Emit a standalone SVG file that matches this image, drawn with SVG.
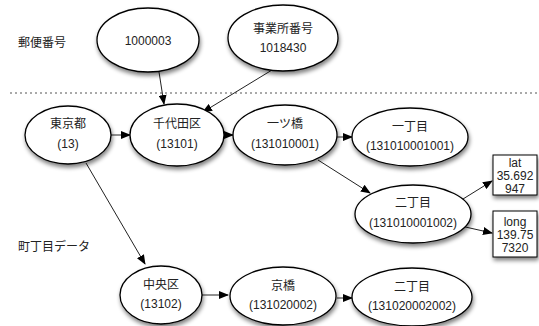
<svg xmlns="http://www.w3.org/2000/svg" width="539" height="326" viewBox="0 0 539 326">
<defs>
<filter id="sh" x="-20%" y="-20%" width="150%" height="160%">
<feGaussianBlur in="SourceAlpha" stdDeviation="2"/>
<feOffset dx="1" dy="3" result="b"/>
<feComponentTransfer><feFuncA type="linear" slope="0.5"/></feComponentTransfer>
<feMerge><feMergeNode/><feMergeNode in="SourceGraphic"/></feMerge>
</filter>
<marker id="ah" markerWidth="10" markerHeight="8" refX="9" refY="4" orient="auto" markerUnits="userSpaceOnUse">
<path d="M0,0 L10,4 L0,8 Z" fill="#000"/>
</marker>
</defs>
<style>
.n ellipse{fill:#fff;stroke:#000;stroke-width:1.3;filter:url(#sh)}
.n rect{fill:#fff;stroke:#000;stroke-width:1;filter:url(#sh)}
text{font-family:"Liberation Sans","Noto Sans CJK JP",sans-serif;font-size:12px;fill:#222;text-anchor:middle}
.lbl{text-anchor:start}
.e line{stroke:#222;stroke-width:1;marker-end:url(#ah)}
</style>
<rect width="539" height="326" fill="#fff"/>
<text class="lbl" x="18" y="47">郵便番号</text>
<text class="lbl" x="18" y="251">町丁目データ</text>
<line x1="10" y1="93" x2="539" y2="93" stroke="#555" stroke-width="1" stroke-dasharray="2,3"/>
<g class="e">
<line x1="159" y1="72" x2="164" y2="104"/>
<line x1="272" y1="70" x2="203" y2="112"/>
<line x1="111" y1="135" x2="130" y2="135"/>
<line x1="224" y1="135" x2="233" y2="135"/>
<line x1="337" y1="137" x2="352" y2="137"/>
<line x1="318" y1="160" x2="370" y2="193"/>
<line x1="463" y1="199" x2="492" y2="181"/>
<line x1="461" y1="226" x2="492" y2="233"/>
<line x1="86" y1="163" x2="145" y2="264"/>
<line x1="202" y1="295" x2="228" y2="295"/>
<line x1="337" y1="298" x2="352" y2="298"/>
</g>
<g class="n" id="n1000003"><ellipse cx="148" cy="40" rx="51" ry="32"/><text x="148" y="45">1000003</text></g>
<g class="n" id="jigyosho"><ellipse cx="283" cy="38" rx="55" ry="33"/><text x="283" y="33">事業所番号</text><text x="283" y="52">1018430</text></g>
<g class="n" id="tokyo"><ellipse cx="68" cy="135" rx="43" ry="29"/><text x="68" y="128">東京都</text><text x="68" y="148">(13)</text></g>
<g class="n" id="chiyoda"><ellipse cx="177" cy="135" rx="47" ry="31"/><text x="177" y="128">千代田区</text><text x="177" y="148">(13101)</text></g>
<g class="n" id="hitotsubashi"><ellipse cx="285" cy="135" rx="52" ry="30"/><text x="285" y="128">一ツ橋</text><text x="285" y="148">(131010001)</text></g>
<g class="n" id="h1"><ellipse cx="410" cy="137" rx="58" ry="29"/><text x="410" y="131">一丁目</text><text x="410" y="150">(131010001001)</text></g>
<g class="n" id="h2"><ellipse cx="413" cy="214" rx="58" ry="29"/><text x="413" y="207">二丁目</text><text x="413" y="227">(131010001002)</text></g>
<g class="n" id="lat"><rect x="493" y="155" width="44" height="40"/><text x="515" y="167">lat</text><text x="515" y="180">35.692</text><text x="515" y="193">947</text></g>
<g class="n" id="long"><rect x="493" y="211" width="44" height="46"/><text x="515" y="226">long</text><text x="515" y="239">139.75</text><text x="515" y="252">7320</text></g>
<g class="n" id="chuo"><ellipse cx="161" cy="295" rx="41" ry="29"/><text x="161" y="289">中央区</text><text x="161" y="308">(13102)</text></g>
<g class="n" id="kyobashi"><ellipse cx="283" cy="296" rx="53" ry="29"/><text x="283" y="290">京橋</text><text x="283" y="309">(131020002)</text></g>
<g class="n" id="k2"><ellipse cx="412" cy="297" rx="60" ry="29"/><text x="412" y="291">二丁目</text><text x="412" y="310">(131020002002)</text></g>
</svg>
